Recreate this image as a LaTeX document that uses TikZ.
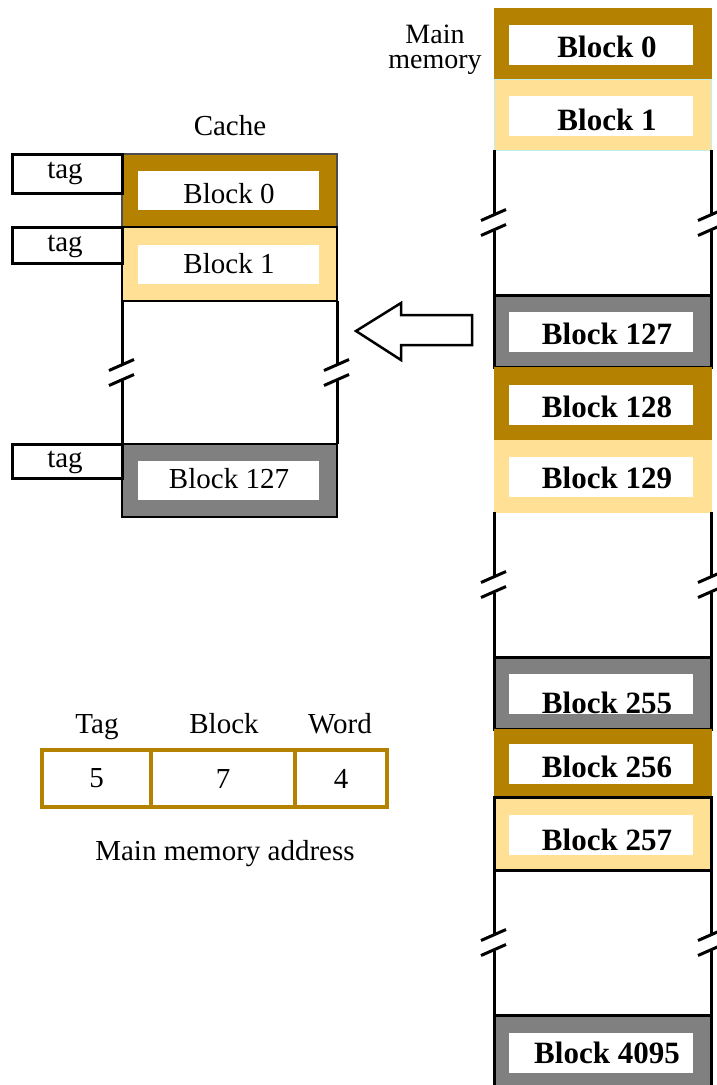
\documentclass[tikz,border=0pt]{standalone}
\usepackage{fontspec}
\setmainfont{Liberation Serif}
\usetikzlibrary{calc}
\definecolor{blkbrown}{HTML}{B48200}
\definecolor{blklight}{HTML}{FFE095}
\definecolor{blkgray}{HTML}{808080}
\definecolor{blkedge}{HTML}{BFEFEA}

\begin{document}
\begin{tikzpicture}[x=1pt,y=-1pt,
  slot/.style={fill=#1,inner sep=0pt,outer sep=0pt},
  win/.style={fill=white,inner sep=0pt,outer sep=0pt},
  tagbox/.style={draw,line width=3pt,minimum width=110pt,inner sep=0pt,outer sep=0pt},
  addr/.style={draw=blkbrown,line width=4pt,minimum height=57pt,inner sep=0pt,outer sep=0pt,font=\fontsize{29}{30}\selectfont},
  txt/.style={anchor=base,inner sep=0pt,font=\fontsize{29}{30}\selectfont},
  btxt/.style={anchor=base,inner sep=0pt,font=\fontsize{31}{32}\selectfont\bfseries},
  wall/.style={line width=3pt},
]
  \useasboundingbox (0,0) rectangle (717,1085);

  % main memory
  \foreach \n/\c/\h/\col/\edge/\lw/\b in {
      0/43.5/71/blkbrown/blkbrown/1/57,
      1/114.5/71/blklight/blkedge/1/130,
      127/331/72/blkgray/black/3/344,
      128/403.5/73/blkbrown/blkbrown/1/417,
      129/476/72/blklight/blklight/1/488,
      255/693/72/blkgray/black/3/713,
      256/763/68/blkbrown/blkbrown/1/777,
      257/833.5/73/blklight/black/3/850,
      4095/1051.5/73/blkgray/black/3/1063}
  {
    \node[slot=\col,draw=\edge,line width=\lw pt,minimum width=217pt,minimum height=\h pt] (m\n) at (602.5,\c) {};
    \node[win,minimum width=184pt,minimum height=40pt] (m\n w) at (601,\c+1) {};
    \node[btxt] at (607,\b) {Block \n};
  }
  \node[inner sep=0pt,anchor=north,align=center,font=\fontsize{28}{25}\selectfont] (mainlbl) at (435,24.5) {Main\\memory};

  % cache
  \node[txt] (cachelbl) at (230,135) {Cache};
  \foreach \n/\c/\h/\col/\edge/\b/\tc/\th/\tb in {
      0/190.5/73/blkbrown/black!70/203/173.5/39/178,
      1/264/74/blklight/black/273/245/36/251,
      127/480.5/73/blkgray/black/488/461/34/467}
  {
    \node[slot=\col,draw=\edge,line width=2.5pt,minimum width=215pt,minimum height=\h pt] (c\n) at (229.5,\c) {};
    \node[win,minimum width=181pt,minimum height=39pt] (c\n w) at (228.5,\c) {};
    \node[txt] at (229,\b) {Block \n};
    \node[tagbox,minimum height=\th pt] (t\n) at (67,\tc) {};
    \node[txt] at (65,\tb) {tag};
  }

  % broken walls
  \foreach \a/\z in {m1/m127, m129/m255, m257/m4095, c1/c127}
    \foreach \s in {west, east}
    {
      \coordinate (mid) at ($(\a.south \s)!0.5!(\z.north \s)$);
      \draw[wall] (\a.south \s) -- ($(mid)+(0,-8)$);
      \draw[wall] ($(mid)+(0,8)$) -- (\z.north \s);
      \draw[wall] ($(mid)+(-13,-2)$) -- ($(mid)+(12,-13)$);
      \draw[wall] ($(mid)+(-13,13)$) -- ($(mid)+(12,2)$);
    }

  % transfer arrow
  \draw[line width=2.5pt,line join=miter] (356,331) -- (401,303) -- (401,315) -- (472,315)
    -- (472,345) -- (401,345) -- (401,360) -- cycle;

  % address format
  \node[addr,minimum width=109pt] (atag) at (96.5,778.5) {5};
  \node[addr,minimum width=144pt] (ablk) at (223,778.5) {7};
  \node[addr,minimum width=92pt] (aword) at (341,778.5) {4};
  \node[txt] (ltag) at (97,733) {Tag};
  \node[txt] (lblk) at (224,733) {Block};
  \node[txt] (lword) at (340,733) {Word};
  \node[txt] (laddr) at (225,860) {Main memory address};
\end{tikzpicture}
\end{document}
